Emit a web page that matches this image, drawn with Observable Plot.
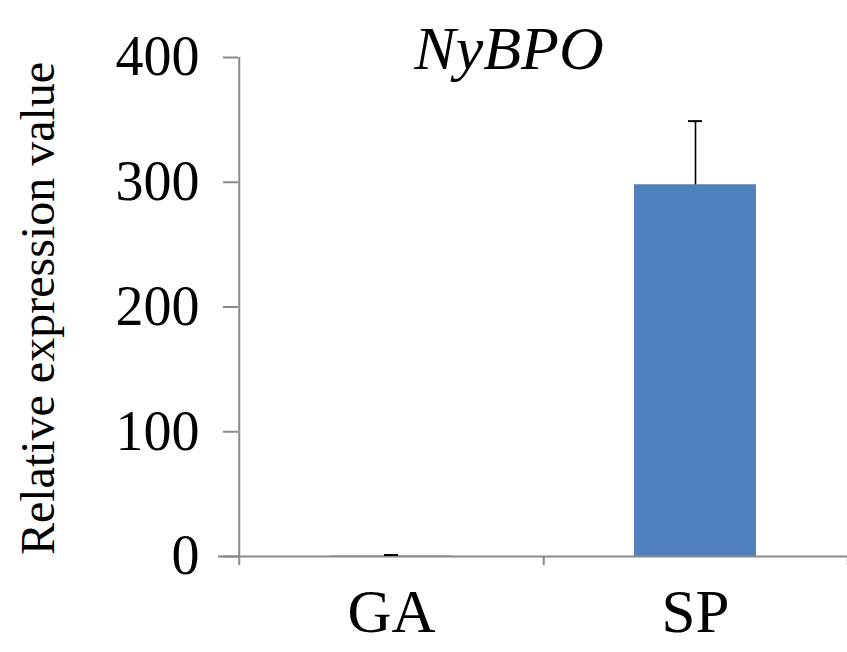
<!DOCTYPE html>
<html>
<head>
<meta charset="utf-8">
<script src="https://cdn.jsdelivr.net/npm/d3@7"></script>
<script src="https://cdn.jsdelivr.net/npm/@observablehq/plot@0.6"></script>
<style>
  html, body { margin: 0; padding: 0; background: #ffffff; }
  #chart { width: 847px; height: 652px; }
</style>
</head>
<body>
<div id="chart"></div>
<script>
const categories = ["GA", "SP"];
const values = [0.4, 298];
const errors = [0.8, 51];
const yTicks = [0, 100, 200, 300, 400];
const title = "NyBPO";
const yLabel = "Relative expression value";

const data = categories.map((c, i) => ({cat: c, value: values[i], err: errors[i]}));

const W = 847, H = 652, ML = 238, MR = 0, MT = 57, MB = 96;
const step = (W - ML - MR) / categories.length;
const gray = "#8a8a8a";
const font = "'Liberation Serif', 'Times New Roman', serif";

const chart = Plot.plot({
  width: W,
  height: H,
  marginLeft: ML,
  marginRight: MR,
  marginTop: MT,
  marginBottom: MB,
  style: {fontFamily: font, background: "#ffffff", color: "#000000", overflow: "visible"},
  x: {domain: categories, paddingInner: 0.6, paddingOuter: 0.3, label: null},
  y: {domain: [0, 400], label: null},
  marks: [
    Plot.barY(data, {x: "cat", y: "value", fill: "#4F81BD"}),
    Plot.ruleY([0], {stroke: gray, strokeWidth: 2, insetLeft: -20}),
    Plot.ruleX(data, {x: "cat", y1: "value", y2: d => d.value + d.err, stroke: "#000000", strokeWidth: 1.6}),
    Plot.tickY(data, {x: "cat", y: d => d.value + d.err, stroke: "#000000", strokeWidth: 2, inset: 54}),
    Plot.ruleX([categories[0]], {x: d => d, dx: -step / 2, y1: 400, y2: 0, insetBottom: -9, stroke: gray, strokeWidth: 2}),
    Plot.ruleX(categories, {x: d => d, dx: step / 2, y1: 0, y2: 0, insetBottom: -9, stroke: gray, strokeWidth: 2}),
    Plot.axisY(yTicks, {tickSize: 15, tickPadding: 24, fontSize: 56, stroke: gray, strokeWidth: 2, fill: "#000000", label: null}),
    Plot.axisX({tickSize: 0, tickPadding: 32, fontSize: 61, fill: "#000000", label: null}),
    Plot.text([title], {text: d => d, frameAnchor: "top", lineAnchor: "bottom", textAnchor: "middle", dx: -34, dy: 11, fontSize: 62, fontStyle: "italic", fill: "#000000"}),
    Plot.text([yLabel], {text: d => d, frameAnchor: "left", rotate: -90, textAnchor: "middle", lineAnchor: "bottom", dx: -185, dy: 1.5, fontSize: 48, fill: "#000000"})
  ]
});

document.getElementById("chart").appendChild(chart);
</script>
</body>
</html>
